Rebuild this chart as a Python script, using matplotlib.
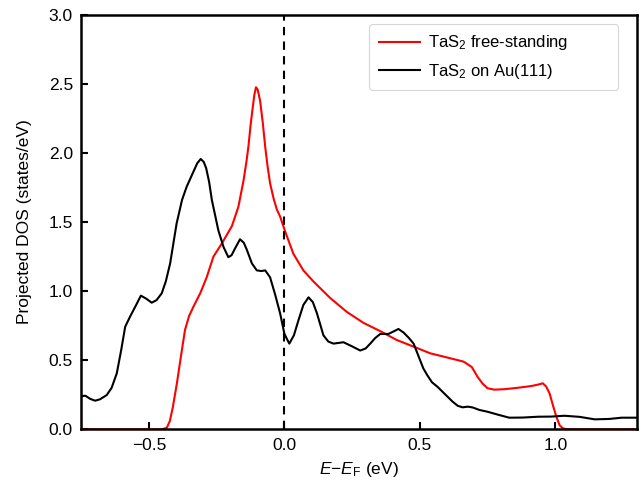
import matplotlib
matplotlib.use("Agg")
import matplotlib.pyplot as plt

plt.rcParams['font.family'] = ['Liberation Sans', 'DejaVu Sans']
plt.rcParams['mathtext.fontset'] = 'custom'
plt.rcParams['mathtext.rm'] = 'Liberation Sans'
plt.rcParams['mathtext.it'] = 'Liberation Sans:italic'
plt.rcParams['mathtext.bf'] = 'Liberation Sans:bold'

# TaS2 on Au(111)
au_x = [-0.75, -0.735, -0.717, -0.699, -0.681, -0.656, -0.638, -0.619, -0.603, -0.588,
        -0.570, -0.55, -0.530, -0.510, -0.490, -0.472, -0.453, -0.438, -0.422, -0.398,
        -0.378, -0.361, -0.336, -0.322, -0.309, -0.298, -0.289, -0.278, -0.268, -0.244,
        -0.225, -0.207, -0.195, -0.182, -0.164, -0.150, -0.139, -0.120, -0.102, -0.085,
        -0.071, -0.053, -0.035, -0.016, 0.000, 0.018, 0.035, 0.052, 0.070, 0.089, 0.105,
        0.120, 0.144, 0.162, 0.181, 0.200, 0.218, 0.250, 0.280, 0.300, 0.317, 0.335, 0.354,
        0.370, 0.384, 0.405, 0.421, 0.440, 0.460, 0.477, 0.495, 0.513, 0.528, 0.545, 0.565,
        0.595, 0.621, 0.640, 0.658, 0.677, 0.695, 0.720, 0.750, 0.790, 0.830, 0.880, 0.936,
        0.985, 1.034, 1.09, 1.146, 1.20, 1.245, 1.3]
au_y = [0.24, 0.243, 0.22, 0.207, 0.217, 0.248, 0.30, 0.405, 0.57, 0.742,
        0.815, 0.89, 0.967, 0.945, 0.916, 0.935, 0.984, 1.07, 1.20, 1.49,
        1.66, 1.755, 1.864, 1.925, 1.956, 1.935, 1.89, 1.79, 1.66, 1.44,
        1.32, 1.245, 1.26, 1.31, 1.375, 1.35, 1.30, 1.20, 1.15, 1.145,
        1.15, 1.10, 0.98, 0.84, 0.69, 0.62, 0.68, 0.79, 0.90, 0.955, 0.92,
        0.84, 0.68, 0.635, 0.62, 0.625, 0.63, 0.60, 0.57, 0.585, 0.62, 0.66, 0.69,
        0.69, 0.69, 0.71, 0.726, 0.70, 0.66, 0.62, 0.53, 0.44, 0.39, 0.34, 0.308,
        0.25, 0.20, 0.17, 0.159, 0.164, 0.158, 0.14, 0.127, 0.105, 0.084, 0.085, 0.091,
        0.092, 0.098, 0.09, 0.072, 0.075, 0.084, 0.084]

# TaS2 free-standing
fs_x = [-0.75, -0.455, -0.445, -0.434, -0.423, -0.412, -0.397, -0.382, -0.367, -0.352,
        -0.336, -0.311, -0.287, -0.262, -0.231, -0.194, -0.170, -0.151, -0.140, -0.133,
        -0.125, -0.117, -0.111, -0.105, -0.099, -0.090, -0.080, -0.071, -0.062, -0.053,
        -0.040, -0.028, -0.016, 0.003, 0.033, 0.070, 0.107, 0.169, 0.230, 0.292, 0.354,
        0.415, 0.477, 0.538, 0.600, 0.661, 0.677, 0.692, 0.713, 0.732, 0.750, 0.775,
        0.812, 0.860, 0.911, 0.940, 0.954, 0.966, 0.979, 0.992, 1.004, 1.016, 1.028,
        1.045, 1.3]
fs_y = [0.0, 0.0, 0.004, 0.012, 0.06, 0.16, 0.333, 0.53, 0.72, 0.82,
        0.887, 0.984, 1.10, 1.25, 1.345, 1.47, 1.61, 1.80, 1.94, 2.045,
        2.20, 2.33, 2.42, 2.475, 2.46, 2.38, 2.22, 2.045, 1.90, 1.78,
        1.67, 1.59, 1.54, 1.43, 1.27, 1.15, 1.07, 0.95, 0.85, 0.77, 0.71,
        0.646, 0.598, 0.55, 0.52, 0.49, 0.47, 0.45, 0.38, 0.33, 0.297, 0.287,
        0.29, 0.30, 0.313, 0.325, 0.333, 0.31, 0.26, 0.17, 0.091, 0.03, 0.007,
        0.0, 0.0]

xticks = [-0.5, 0.0, 0.5, 1.0]
yticks = [0.0, 0.5, 1.0, 1.5, 2.0, 2.5, 3.0]

fig = plt.figure(figsize=(6.41, 4.87), dpi=100)
ax = fig.add_axes([81.3 / 641, (487 - 429.3) / 487, (636.5 - 81.3) / 641, (429.3 - 14.7) / 487])

ax.plot(fs_x, fs_y, color='#ff0000', lw=1.5, label='TaS$_2$ free-standing')
ax.plot(au_x, au_y, color='black', lw=1.5, label='TaS$_2$ on Au(111)')
ax.axvline(0.0, color='black', lw=1.5, ls=(0, (4, 3)))

ax.set_xlim(-0.75, 1.3)
ax.set_ylim(0, 3.0)
ax.set_xticks(xticks)
ax.set_yticks(yticks)
ax.set_xticklabels([f"{t:.1f}".replace('-', '\u2212') for t in xticks])
ax.set_yticklabels([f"{t:.1f}" for t in yticks])
ax.tick_params(direction='in', length=5, width=1.5, labelsize=12.5, top=False, right=False)
ax.tick_params(axis='x', pad=6.5)
ax.tick_params(axis='y', pad=6)
for s in ax.spines.values():
    s.set_linewidth(1.8)

ax.set_xlabel('$E$\u2212$E_{\\mathrm{F}}$ (eV)', fontsize=12.5, labelpad=5)
ax.set_ylabel('Projected DOS (states/eV)', fontsize=12.5, labelpad=12)

leg = ax.legend(loc='upper left', fontsize=12, frameon=True, fancybox=True,
                edgecolor='#cccccc', handlelength=2.5, handletextpad=0.45,
                borderpad=0.55, labelspacing=0.55, mode='expand', borderaxespad=0.0,
                bbox_to_anchor=(0.519, 0.977, 0.448, 0.0))
leg.get_frame().set_linewidth(0.8)

fig.savefig('out.png', dpi=100)
